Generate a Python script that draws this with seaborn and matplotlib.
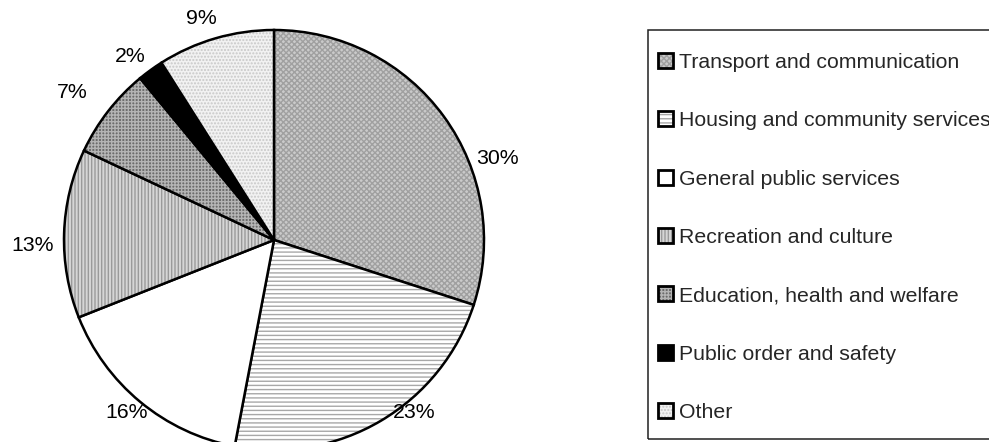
import numpy as np
import matplotlib
matplotlib.use("Agg")
import matplotlib.pyplot as plt
import matplotlib.patches as mpatches
from matplotlib.colors import to_rgba
import seaborn as sns

# data (shares in percent, clockwise from 12 o'clock)
categories = ["Transport and communication", "Housing and community services",
              "General public services", "Recreation and culture",
              "Education, health and welfare", "Public order and safety", "Other"]
shares = [30, 23, 16, 13, 7, 2, 9]
pct_labels = [f"{v}%" for v in shares]

# grey-scale fills imitating the original pattern fills
face_colors = ["#cacaca", "#ffffff", "#ffffff", "#d6d6d6", "#6c6c6c", "#000000", "#f2f2f2"]
hatch_colors = ["#a0a0a0", "#a8a8a8", "#ffffff", "#9a9a9a", "#b4b4b4", "#000000", "#c8c8c8"]
hatches = ["xxxxxx", "----", "", "|||||", "+++++", "", "....."]

# label placement (distance in radii, angular nudge in degrees from wedge middle)
label_dist = [1.13, 1.06, 1.08, 1.15, 1.19, 1.11, 1.11]
label_nudge = [-16, 8.5, -1, 3, 1.5, 2, 2]

sns.set_style("white")
plt.rcParams["font.family"] = ["Liberation Sans", "DejaVu Sans"]
plt.rcParams["hatch.linewidth"] = 1.0

W, H = 989, 442
FS = 15.3
fig = plt.figure(figsize=(W / 100, H / 100), dpi=100)

# pie: centre (274, 240) px, radius 210 px
ax = fig.add_axes([64 / W, -8 / H, 420 / W, 420 / H])
wedges, texts = ax.pie(shares, labels=pct_labels, startangle=90, counterclock=False,
                       colors=face_colors, labeldistance=1.12, radius=1,
                       wedgeprops=dict(edgecolor="black", linewidth=1.8),
                       textprops=dict(fontsize=FS, color="black"))
for w, h, hc in zip(wedges, hatches, hatch_colors):
    w.set_hatch(h)
    w._hatch_color = to_rgba(hc)
    w.set_clip_on(False)
for w, t, d, n in zip(wedges, texts, label_dist, label_nudge):
    a = np.deg2rad((w.theta1 + w.theta2) / 2 + n)
    t.set_position((d * np.cos(a), d * np.sin(a)))
    t.set_ha("center")
    t.set_va("center")
ax.set_xlim(-1, 1)
ax.set_ylim(-1, 1)
ax.set_aspect("auto")
ax.axis("off")

# legend with square frame
fig.patches.append(mpatches.Rectangle((648 / W, 1 - 439 / H), 360 / W, 409 / H,
                                      transform=fig.transFigure, fill=False,
                                      edgecolor="#202020", linewidth=1.1))
leg = fig.legend(wedges, categories, loc="upper left",
                 bbox_to_anchor=(658 / W, 1 - 53 / H), frameon=False,
                 fontsize=FS, borderpad=0, borderaxespad=0,
                 handlelength=0.7, handleheight=0.7, handletextpad=0.3,
                 labelspacing=1.85)
for h in leg.legend_handles:
    h.set_linewidth(2.0)

fig.savefig("out.png", dpi=100)
